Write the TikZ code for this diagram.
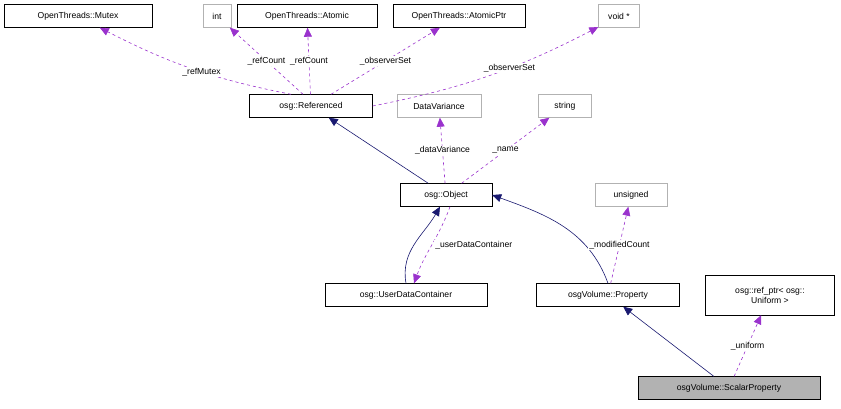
\documentclass[tikz,border=0pt]{standalone}
\usepackage{fontspec}
\setmainfont{Liberation Sans}
\usetikzlibrary{positioning,arrows.meta}
\definecolor{usecol}{HTML}{9A32CD}
\definecolor{inhcol}{HTML}{191970}
\tikzstyle{cls}=[draw,thin,minimum height=23pt,inner xsep=4pt,font=\fontsize{8.6}{10}\selectfont]
\tikzstyle{ext}=[cls,draw=black!30]
\tikzstyle{inh}=[draw=inhcol,-{Triangle[length=9pt,width=8pt]}]
\tikzstyle{use}=[draw=usecol,dashed,-{Triangle[length=9pt,width=8pt]}]
\tikzstyle{lbl}=[font=\fontsize{8.6}{10}\selectfont,fill=white,inner sep=1pt]
\begin{document}
\begin{tikzpicture}[x=1pt,y=-1pt,semithick]
\useasboundingbox (0,0) rectangle (841,409);
% top row
\node[cls,minimum width=148pt] (mutex) at (78,16) {OpenThreads::Mutex};
\node[ext,minimum width=28pt] (int) at (217,16) {int};
\node[cls,minimum width=140pt] (atomic) at (307,16) {OpenThreads::Atomic};
\node[cls,minimum width=132pt] (aptr) at (459,16) {OpenThreads::AtomicPtr};
\node[ext,minimum width=41pt] (void) at (619,16) {void *};
% second row
\node[cls,minimum width=123pt] (ref) at (311,106) {osg::Referenced};
\node[ext,minimum width=84pt] (dvar) at (439,106) {DataVariance};
\node[ext,minimum width=53pt] (str) at (565,106) {string};
% third row
\node[cls,minimum width=92pt] (obj) at (446,195) {osg::Object};
\node[ext,minimum width=72pt] (uns) at (631,195) {unsigned};
% fourth row
\node[cls,minimum width=162pt] (udc) at (406,295) {osg::UserDataContainer};
\node[cls,minimum width=143pt] (prop) at (608,295) {osgVolume::Property};
\node[cls,minimum width=129pt,minimum height=40pt,align=center] (uptr) at (770,295) {osg::ref\_ptr< osg::\\Uniform >};
% bottom
\node[cls,fill=black!30,minimum width=182pt] (sprop) at (729,388) {osgVolume::ScalarProperty};
% members of Referenced
\draw[use] ([xshift=-20pt]ref.north) to[bend left=8] node[lbl,pos=.45] {\_refMutex} (mutex);
\draw[use] ([xshift=-8pt]ref.north) -- node[lbl] {\_refCount} (int);
\draw[use] (ref) -- node[lbl] {\_refCount} (atomic);
\draw[use] ([xshift=20pt]ref.north) -- node[lbl] {\_observerSet} (aptr);
\draw[use] (ref.east) to[bend right=8] node[lbl,pos=.6] {\_observerSet} (void);
% Object
\draw[inh] (obj) -- (ref);
\draw[use] (obj) -- node[lbl] {\_dataVariance} (dvar);
\draw[use] (obj) -- node[lbl] {\_name} (str);
\draw[inh] (udc.north) to[out=100,in=240] ([xshift=-6pt]obj.south);
\draw[use] ([xshift=4pt]obj.south) to[out=250,in=70] node[lbl,right=2pt,pos=.5] {\_userDataContainer} ([xshift=8pt]udc.north);
% Property
\draw[inh] (prop.north) to[out=110,in=-20] (obj.east);
\draw[use] (prop) -- node[lbl] {\_modifiedCount} (uns);
% ScalarProperty
\draw[inh] (sprop) -- (prop);
\draw[use] (sprop) -- node[lbl] {\_uniform} (uptr);
\end{tikzpicture}
\end{document}
